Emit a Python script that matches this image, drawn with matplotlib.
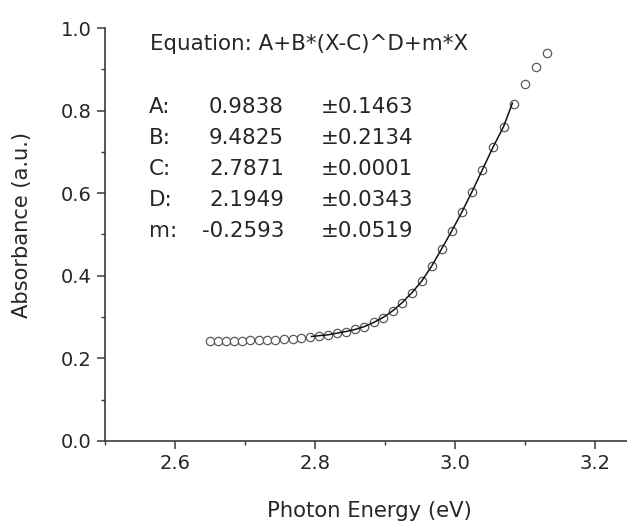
import matplotlib
matplotlib.use("Agg")
import matplotlib.pyplot as plt
from matplotlib.ticker import MultipleLocator

# ---- data ----
energy = [2.6496, 2.6609, 2.6724, 2.6840, 2.6957, 2.7074, 2.7193, 2.7313,
          2.7434, 2.7556, 2.7679, 2.7803, 2.7928, 2.8054, 2.8182, 2.8311,
          2.8440, 2.8571, 2.8704, 2.8837, 2.8972, 2.9108, 2.9245, 2.9384,
          2.9524, 2.9665, 2.9808, 2.9952, 3.0097, 3.0244, 3.0392, 3.0542,
          3.0693, 3.0846, 3.1000, 3.1156, 3.1313]
absorbance = [0.243, 0.243, 0.243, 0.243, 0.243, 0.244, 0.244, 0.245,
              0.245, 0.246, 0.247, 0.249, 0.251, 0.254, 0.257, 0.261,
              0.265, 0.270, 0.277, 0.287, 0.299, 0.315, 0.335, 0.359,
              0.387, 0.423, 0.465, 0.508, 0.554, 0.604, 0.657, 0.711,
              0.761, 0.817, 0.865, 0.906, 0.940]

fit_energy = [2.795, 2.8054, 2.8182, 2.8311, 2.8440, 2.8571, 2.8704, 2.8837,
              2.8972, 2.9108, 2.9245, 2.9384, 2.9524, 2.9665, 2.9808, 2.9952,
              3.0097, 3.0244, 3.0392, 3.0542, 3.0693, 3.082]
fit_absorbance = [0.253, 0.255, 0.257, 0.261, 0.265, 0.270, 0.277, 0.287,
                  0.299, 0.315, 0.335, 0.359, 0.387, 0.423, 0.465, 0.508,
                  0.554, 0.604, 0.657, 0.711, 0.761, 0.818]

equation = "Equation: A+B*(X-C)^D+m*X"
param_names = ["A:", "B:", "C:", "D:", "m:"]
param_values = ["0.9838", "9.4825", "2.7871", "2.1949", "-0.2593"]
param_errors = ["\u00b10.1463", "\u00b10.2134", "\u00b10.0001", "\u00b10.0343", "\u00b10.0519"]

x_ticks = [2.6, 2.8, 3.0, 3.2]
y_ticks = [0.0, 0.2, 0.4, 0.6, 0.8, 1.0]

# ---- figure ----
W, H = 627, 522
plt.rcParams['font.family'] = ['DejaVu Sans']
fig = plt.figure(figsize=(W / 100, H / 100), dpi=100)
txt_col = "#262626"
ax_col = "#3a3a3a"

left_px, right_px, top_px, bot_px = 105, 630, 28, 441
ax = fig.add_axes([left_px / W, 1 - bot_px / H, (right_px - left_px) / W, (bot_px - top_px) / H])

ax.plot(energy, absorbance, linestyle="none", marker="o", markersize=6.0,
        markerfacecolor="white", markeredgecolor="#5a5a5a", markeredgewidth=0.9, zorder=2)
ax.plot(fit_energy, fit_absorbance, color="#111111", linewidth=1.1, zorder=3)

ax.set_xlim(2.5, 3.25)
ax.set_ylim(0.0, 1.0)
ax.set_xticks(x_ticks)
ax.set_yticks(y_ticks)
ax.set_xticklabels([f"{v:.1f}" for v in x_ticks])
ax.set_yticklabels([f"{v:.1f}" for v in y_ticks])
ax.xaxis.set_minor_locator(MultipleLocator(0.1))
ax.yaxis.set_minor_locator(MultipleLocator(0.1))

for s in ["top", "right"]:
    ax.spines[s].set_visible(False)
for s in ["left", "bottom"]:
    ax.spines[s].set_color(ax_col)
    ax.spines[s].set_linewidth(1.2)

ax.tick_params(which="major", direction="out", length=5.5, width=1.1, color=ax_col,
               labelsize=14, labelcolor=txt_col, pad=4)
ax.tick_params(which="minor", direction="out", length=3.2, width=1.0, color=ax_col)

fig.text(369 / W, 1 - 511 / H, "Photon Energy (eV)", fontsize=15.2, color=txt_col,
         ha="center", va="center")
fig.text(22 / W, 1 - 225 / H, "Absorbance (a.u.)", rotation=90, fontsize=15.1,
         color=txt_col, ha="center", va="center")

# equation block
fs = 15.4
fig.text(150 / W, 1 - 44 / H, equation, fontsize=fs, color=txt_col, ha="left", va="center")
row_y = [107, 138, 169, 200, 231]
for name, val, err, y in zip(param_names, param_values, param_errors, row_y):
    fig.text(149 / W, 1 - y / H, name, fontsize=fs, color=txt_col, ha="left", va="center")
    fig.text(284 / W, 1 - y / H, val, fontsize=fs, color=txt_col, ha="right", va="center")
    fig.text(321 / W, 1 - y / H, err, fontsize=fs, color=txt_col, ha="left", va="center")

fig.savefig("out.png", dpi=100)
